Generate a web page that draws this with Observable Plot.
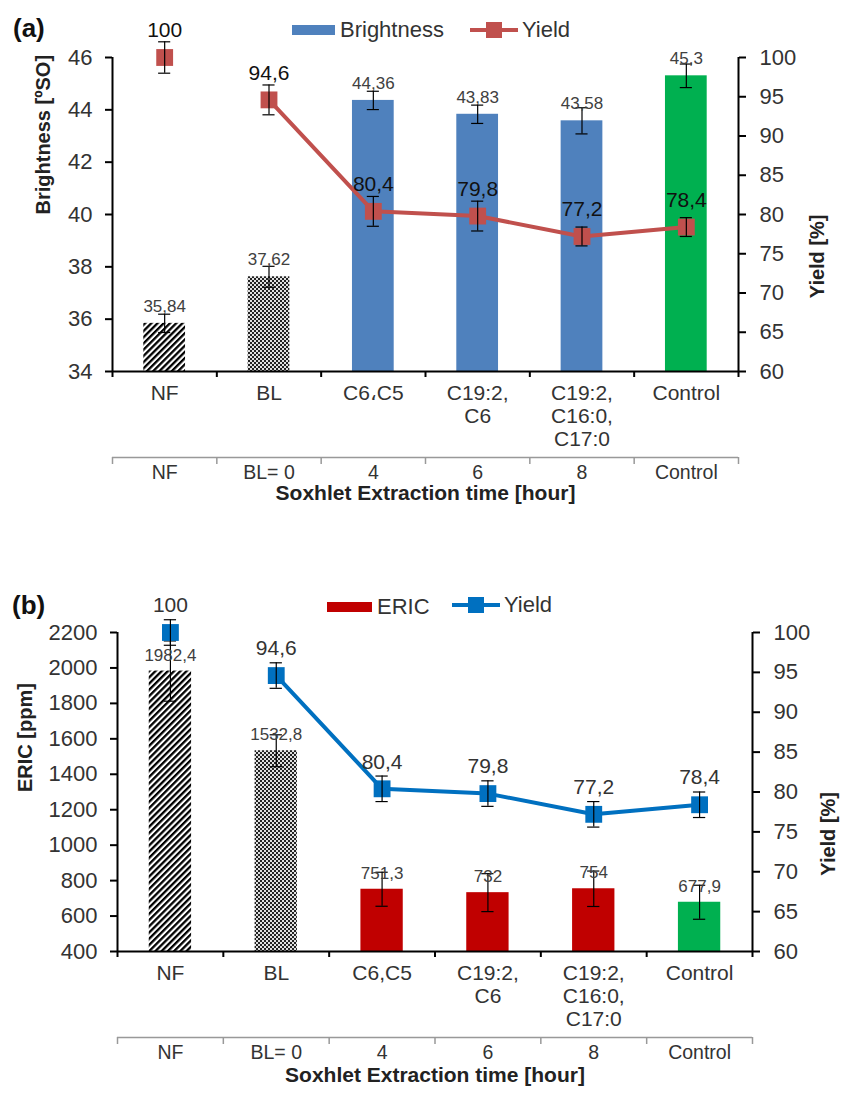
<!DOCTYPE html>
<html><head><meta charset="utf-8">
<script src="https://cdn.jsdelivr.net/npm/d3@7"></script>
<script src="https://cdn.jsdelivr.net/npm/@observablehq/plot@0.6"></script>
<style>
body{margin:0;background:#fff;font-family:"Liberation Sans",Arial,sans-serif;}
.panel{position:relative;width:843px;}
.ov{position:absolute;line-height:1;transform:translateY(-50%);white-space:nowrap;color:#333;font-size:22px;}
.sw{position:absolute;transform:translateY(-50%);}
</style></head><body>
<div id="a" class="panel"></div>
<div id="b" class="panel"></div>
<script>
// ---- data ----
const categoriesA = ["NF", "BL", "C6\u060CC5", "C19:2,\nC6", "C19:2,\nC16:0,\nC17:0", "Control"];
const categoriesB = ["NF", "BL", "C6,C5", "C19:2,\nC6", "C19:2,\nC16:0,\nC17:0", "Control"];
const hours = ["NF", "BL= 0", "4", "6", "8", "Control"];
const barKinds = ["hatch", "dots", "series", "series", "series", "control"];
// the yield line joins the points from BL onwards; NF is a lone point
const yieldJoined = [false, true, true, true, true, true];

const brightness = [35.84, 37.62, 44.36, 43.83, 43.58, 45.3];
const brightnessErr = [0.35, 0.4, 0.35, 0.35, 0.5, 0.45];
const yieldA = [100, 94.6, 80.4, 79.8, 77.2, 78.4];
const yieldAErr = [2, 1.9, 1.9, 1.9, 1.2, 1.2];

const eric = [1982.4, 1532.8, 751.3, 732, 754, 677.9];
const ericErr = [170, 90, 96, 107, 100, 96];
const yieldB = [100, 94.6, 80.4, 79.8, 77.2, 78.4];
const yieldBErr = [1.6, 1.6, 1.6, 1.6, 1.6, 1.6];

const brightnessTicks = [34, 36, 38, 40, 42, 44, 46];
const ericTicks = [400, 600, 800, 1000, 1200, 1400, 1600, 1800, 2000, 2200];
const yieldTicks = [60, 65, 70, 75, 80, 85, 90, 95, 100];
const yieldRange = [60, 100];

const fmt = v => String(v).replace(".", ",");

function buildPanel(o) {
  const [y0, y1] = o.yDomain;
  const conv = v => y0 + (v - yieldRange[0]) * (y1 - y0) / (yieldRange[1] - yieldRange[0]);
  const inv = d => yieldRange[0] + (d - y0) * (yieldRange[1] - yieldRange[0]) / (y1 - y0);
  const rows = o.values.map((v, i) => ({
    i, v, e: o.errs[i], cat: o.cats[i], hour: hours[i], kind: barKinds[i],
    yv: o.yields[i], ye: o.yieldErrs[i], joined: yieldJoined[i]
  }));
  const xc = d => d.i + 0.5;
  const hw = 0.2, cap = 0.058;
  const barOpts = (kind, fill) => ({
    filter: d => d.kind === kind,
    x1: d => xc(d) - hw, x2: d => xc(d) + hw, y1: y0, y2: d => d.v, fill
  });
  const errMarks = (val, err) => [
    Plot.ruleX(rows, {x: xc, y1: d => val(d) - err(d), y2: d => val(d) + err(d), stroke: "black", strokeWidth: 1.2}),
    Plot.ruleY(rows, {y: d => val(d) + err(d), x1: d => xc(d) - cap, x2: d => xc(d) + cap, stroke: "black", strokeWidth: 1.2}),
    Plot.ruleY(rows, {y: d => val(d) - err(d), x1: d => xc(d) - cap, x2: d => xc(d) + cap, stroke: "black", strokeWidth: 1.2})
  ];
  const svg = Plot.plot({
    width: 843, height: o.height,
    marginLeft: o.marginLeft, marginRight: o.marginRight, marginTop: o.marginTop, marginBottom: o.marginBottom,
    style: {fontFamily: "Liberation Sans, Arial, sans-serif", background: "white", overflow: "visible"},
    x: {domain: [0, 6], axis: null},
    y: {domain: o.yDomain, axis: null},
    marks: [
      Plot.rect(rows, barOpts("hatch", `url(#hatch${o.id})`)),
      Plot.rect(rows, barOpts("dots", `url(#dots${o.id})`)),
      Plot.rect(rows, barOpts("series", o.seriesColor)),
      Plot.rect(rows, barOpts("control", "#00b050")),
      ...errMarks(d => d.v, d => d.e),
      Plot.text(rows, {x: xc, y: d => d.v, dy: o.barLabelDy, text: d => fmt(d.v), fontSize: 17, fill: "#404040"}),
      Plot.line(rows, {filter: d => d.joined, x: xc, y: d => conv(d.yv), stroke: o.lineColor, strokeWidth: 4}),
      Plot.dot(rows, {x: xc, y: d => conv(d.yv), symbol: "square", r: 9.5, fill: o.lineColor, stroke: "none"}),
      ...errMarks(d => conv(d.yv), d => conv(d.yv + d.ye) - conv(d.yv)),
      Plot.text(rows, {x: xc, y: d => conv(d.yv), dy: -27, text: d => fmt(d.yv), fontSize: 21, fill: o.yieldLabelFill}),
      // axis lines
      Plot.ruleX([0], {stroke: "black", strokeWidth: 2}),
      Plot.ruleX([6], {stroke: "black", strokeWidth: 2}),
      Plot.ruleY([y0], {stroke: "black", strokeWidth: 2}),
      Plot.axisY(o.yTicks, {anchor: "left", tickSize: 7, tickPadding: 13, fontSize: 22, fill: "#333", stroke: "black", strokeWidth: 2, tickFormat: d => String(d), label: null}),
      Plot.axisY(yieldTicks.map(conv), {anchor: "right", tickSize: 7, tickPadding: 14, fontSize: 22, fill: "#333", stroke: "black", strokeWidth: 2, tickFormat: d => String(Math.round(inv(d))), label: null}),
      Plot.axisX(d3.range(7), {anchor: "bottom", tickSize: 6, tickFormat: () => "", stroke: "black", strokeWidth: 2, label: null}),
      // category labels
      Plot.text(rows, {x: xc, y: y0, dy: 12, lineAnchor: "top", text: d => d.cat, fontSize: 21, lineHeight: 1.1, fill: "#333"}),
      Plot.ruleY([y0], {dy: o.sepDy, stroke: "#999", strokeWidth: 1.5}),
      Plot.axisX(d3.range(7), {anchor: "bottom", dy: o.sepDy, tickSize: 7, tickFormat: () => "", stroke: "#999", strokeWidth: 1.5, label: null}),
      Plot.text(rows, {x: xc, y: y0, dy: o.row2Dy, text: d => d.hour, fontSize: 19.5, fill: "#333"}),
      Plot.text(["Soxhlet Extraction time [hour]"], {frameAnchor: "bottom", dy: o.titleDy, text: d => d, fontWeight: "bold", fontSize: 21, fill: "#222"}),
      Plot.text([o.leftLabel], {frameAnchor: "left", rotate: -90, dx: o.leftDx, text: d => d, fontWeight: "bold", fontSize: 20, fill: "#222"}),
      Plot.text(["Yield [%]"], {frameAnchor: "right", rotate: -90, dx: o.rightDx, text: d => d, fontWeight: "bold", fontSize: 20, fill: "#222"})
    ]
  });
  const ns = "http://www.w3.org/2000/svg";
  const defs = document.createElementNS(ns, "defs");
  defs.innerHTML = `
    <pattern id="hatch${o.id}" patternUnits="userSpaceOnUse" width="4.4" height="4.4" patternTransform="rotate(45)">
      <rect width="4.4" height="4.4" fill="white"/><rect width="2.3" height="4.4" fill="black"/>
    </pattern>
    <pattern id="dots${o.id}" patternUnits="userSpaceOnUse" width="4" height="4">
      <rect width="4" height="4" fill="#e0e0e0"/><rect width="2" height="2" fill="#222"/><rect x="2" y="2" width="2" height="2" fill="#222"/>
    </pattern>`;
  svg.insertBefore(defs, svg.firstChild);
  return svg;
}

function legendHTML(l) {
  return `
  <div class="ov" style="left:${l.tagX}px;top:${l.tagY}px;font-size:26px;font-weight:bold;color:#111">${l.tag}</div>
  <div class="sw" style="left:${l.barX}px;top:${l.barY}px;width:${l.barW}px;height:10px;background:${l.barColor}"></div>
  <div class="ov" style="left:${l.barX + l.barW + 5}px;top:${l.barY}px">${l.barName}</div>
  <div class="sw" style="left:${l.lineX}px;top:${l.lineY}px;width:48px;height:4px;background:${l.lineColor}"></div>
  <div class="sw" style="left:${l.lineX + 16}px;top:${l.lineY}px;width:16px;height:16px;background:${l.lineColor}"></div>
  <div class="ov" style="left:${l.lineX + 52}px;top:${l.lineY}px">Yield</div>`;
}

const pa = document.getElementById("a");
pa.append(buildPanel({
  id: "A", height: 520, marginLeft: 112, marginRight: 105, marginTop: 57, marginBottom: 149,
  yDomain: [34, 46], yTicks: brightnessTicks, values: brightness, errs: brightnessErr,
  yields: yieldA, yieldErrs: yieldAErr, cats: categoriesA,
  seriesColor: "#4f81bd", lineColor: "#c0504d", yieldLabelFill: "#111",
  barLabelDy: -17, sepDy: 86, row2Dy: 101, titleDy: 128,
  leftLabel: "Brightness [ºSO]", leftDx: -69, rightDx: 79
}));
pa.insertAdjacentHTML("beforeend", legendHTML({
  tag: "(a)", tagX: 13, tagY: 28, barX: 292, barY: 30, barW: 43, barColor: "#4f81bd", barName: "Brightness",
  lineX: 470, lineY: 30, lineColor: "#c0504d"
}));

const pb = document.getElementById("b");
pb.append(buildPanel({
  id: "B", height: 573, marginLeft: 117, marginRight: 91, marginTop: 112, marginBottom: 142,
  yDomain: [400, 2200], yTicks: ericTicks, values: eric, errs: ericErr,
  yields: yieldB, yieldErrs: yieldBErr, cats: categoriesB,
  seriesColor: "#c00000", lineColor: "#0070c0", yieldLabelFill: "#333",
  barLabelDy: -16, sepDy: 86, row2Dy: 101, titleDy: 130,
  leftLabel: "ERIC [ppm]", leftDx: -92, rightDx: 76
}));
pb.insertAdjacentHTML("beforeend", legendHTML({
  tag: "(b)", tagX: 12, tagY: 85, barX: 327, barY: 87, barW: 45, barColor: "#c00000", barName: "ERIC",
  lineX: 452, lineY: 85, lineColor: "#0070c0"
}));
</script>
</body></html>
